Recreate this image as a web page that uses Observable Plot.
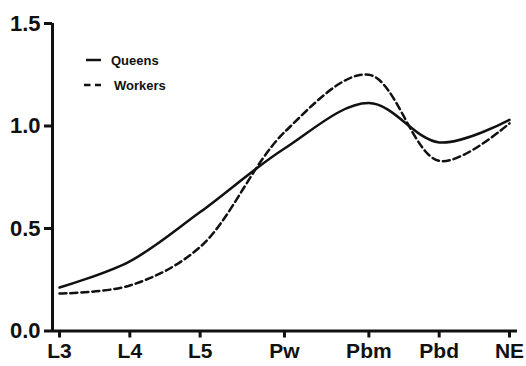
<!DOCTYPE html>
<html>
<head>
<meta charset="utf-8">
<script src="https://cdn.jsdelivr.net/npm/d3@7"></script>
<script src="https://cdn.jsdelivr.net/npm/@observablehq/plot@0.6"></script>
<style>
  html, body { margin: 0; padding: 0; background: #fff; }
  #wrap { position: relative; width: 526px; height: 366px; }
  #legend { position: absolute; left: 0; top: 0; pointer-events: none; }
</style>
</head>
<body>
<div id="wrap"></div>
<script>
// Data
const stages = ["L3", "L4", "L5", "Pw", "Pbm", "Pbd", "NE"];
const stageX = [1, 2, 3, 4.2, 5.4, 6.4, 7.4];
const queens = [0.212, 0.34, 0.58, 0.89, 1.112, 0.92, 1.03];
const workers = [0.183, 0.222, 0.41, 0.97, 1.25, 0.83, 1.013];
const yTicks = [0, 0.5, 1.0, 1.5];
const seriesNames = ["Queens", "Workers"];

const rows = [];
stages.forEach((s, i) => {
  rows.push({stage: s, x: stageX[i], value: queens[i], series: seriesNames[0]});
  rows.push({stage: s, x: stageX[i], value: workers[i], series: seriesNames[1]});
});

const xDomain = [0.9, 7.514];
const yDomain = [0, 1.5];
const font = "'Liberation Sans', Arial, Helvetica, sans-serif";

const chart = Plot.plot({
  width: 526,
  height: 366,
  marginLeft: 52,
  marginRight: 9,
  marginTop: 23,
  marginBottom: 35.5,
  style: {fontFamily: font, fontWeight: "bold", background: "#fff", color: "#111", overflow: "visible"},
  x: {domain: xDomain},
  y: {domain: yDomain},
  marks: [
    Plot.line(rows.filter(d => d.series === "Queens"), {
      x: "x", y: "value", curve: "catmull-rom", stroke: "#111", strokeWidth: 2.5
    }),
    Plot.line(rows.filter(d => d.series === "Workers"), {
      x: "x", y: "value", curve: "catmull-rom", stroke: "#111", strokeWidth: 2.5,
      strokeDasharray: "7,4"
    }),
    Plot.axisY({
      ticks: yTicks, tickFormat: d3.format(".1f"), tickSize: 8, tickPadding: 4,
      strokeWidth: 3, fontSize: 22, fontWeight: "bold", label: null, fill: "#111"
    }),
    Plot.axisX({
      ticks: stageX, tickFormat: (d) => stages[stageX.indexOf(d)], tickSize: 7,
      tickPadding: 5, strokeWidth: 3, fontSize: 21, fontWeight: "bold",
      label: null, fill: "#111"
    }),
    Plot.ruleX([xDomain[0]], {y1: yDomain[0], y2: yDomain[1], stroke: "#111", strokeWidth: 3}),
    Plot.ruleY([yDomain[0]], {x1: xDomain[0], x2: xDomain[1], stroke: "#111", strokeWidth: 3})
  ]
});

const wrap = document.getElementById("wrap");
wrap.appendChild(chart);

// Legend overlay
const leg = d3.select(wrap).append("svg")
  .attr("id", "legend").attr("width", 526).attr("height", 366);
const items = [
  {name: seriesNames[0], x1: 86, x2: 101, y: 60, tx: 111, dash: null},
  {name: seriesNames[1], x1: 84, x2: 101, y: 85, tx: 114, dash: "6.5,4.5"}
];
items.forEach(it => {
  leg.append("line")
    .attr("x1", it.x1).attr("x2", it.x2).attr("y1", it.y).attr("y2", it.y)
    .attr("stroke", "#111").attr("stroke-width", 2.5)
    .attr("stroke-dasharray", it.dash);
  leg.append("text")
    .attr("x", it.tx).attr("y", it.y).attr("dy", "0.35em")
    .attr("font-family", font).attr("font-weight", "bold").attr("font-size", 13)
    .attr("fill", "#111").text(it.name);
});
</script>
</body>
</html>
